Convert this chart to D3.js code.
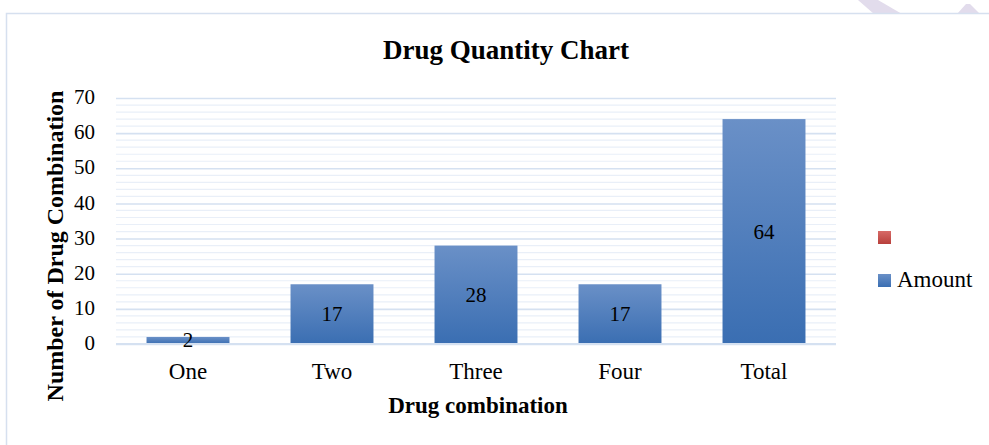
<!DOCTYPE html>
<html>
<head>
<meta charset="utf-8">
<script src="https://cdn.jsdelivr.net/npm/d3@7"></script>
<style>
  html, body { margin: 0; padding: 0; background: #fff; }
  svg { display: block; }
  text { font-family: "Liberation Serif", "DejaVu Serif", serif; fill: #000; }
</style>
</head>
<body>
<svg id="chart" width="989" height="445"></svg>
<script>
// ---- data ----
const categories = ["One", "Two", "Three", "Four", "Total"];
const amounts = [2, 17, 28, 17, 64];
const yTicks = [0, 10, 20, 30, 40, 50, 60, 70];
const legendLabels = ["", "Amount"];
const chartTitle = "Drug Quantity Chart";
const xTitle = "Drug combination";
const yTitle = "Number of Drug Combination";

// ---- layout ----
const W = 989, H = 445;
const plot = { left: 116, right: 836, top: 98, bottom: 344 };

const svg = d3.select("#chart");
const defs = svg.append("defs");

const gBlue = defs.append("linearGradient").attr("id", "gBlue")
  .attr("x1", 0).attr("y1", 0).attr("x2", 0).attr("y2", 1);
gBlue.append("stop").attr("offset", "0%").attr("stop-color", "#6a90c7");
gBlue.append("stop").attr("offset", "100%").attr("stop-color", "#3a6eb2");

const gRed = defs.append("linearGradient").attr("id", "gRed")
  .attr("x1", 0).attr("y1", 0).attr("x2", 0).attr("y2", 1);
gRed.append("stop").attr("offset", "0%").attr("stop-color", "#d76a67");
gRed.append("stop").attr("offset", "100%").attr("stop-color", "#b8403c");

// watermark shapes at top right (behind frame)
svg.append("polygon").attr("points", "858,0 878,0 902,14 874,14").attr("fill", "#e2dcec");
svg.append("polygon").attr("points", "957,14 966,4 970,4 980,14").attr("fill", "#e2dcec");

// frame
svg.append("rect").attr("x", 6.5).attr("y", 13.5).attr("width", W + 10).attr("height", H)
  .attr("fill", "#fff").attr("stroke", "#d6e0ef").attr("stroke-width", 1.5);

const x = d3.scaleBand().domain(categories).range([plot.left, plot.right])
  .paddingInner(0.424).paddingOuter(0.212);
const y = d3.scaleLinear().domain([0, 70]).range([plot.bottom, plot.top]);

// minor gridlines
const minor = d3.range(2, 70, 2).filter(v => v % 10 !== 0);
svg.append("g").selectAll("line").data(minor).join("line")
  .attr("x1", plot.left).attr("x2", plot.right)
  .attr("y1", d => y(d)).attr("y2", d => y(d))
  .attr("stroke", "#e9eff8").attr("stroke-width", 1.2);

// major gridlines via axis
const yAxis = d3.axisLeft(y).tickValues(yTicks).tickSize(-(plot.right - plot.left)).tickPadding(21);
const gy = svg.append("g").attr("transform", `translate(${plot.left},0)`).call(yAxis);
gy.select(".domain").remove();
gy.selectAll(".tick line").attr("stroke", "#d5e1f1").attr("stroke-width", 1.6);
gy.selectAll(".tick text").attr("font-family", "Liberation Serif").attr("font-size", 21)
  .attr("fill", "#000").attr("x", -21).attr("dy", "0.27em");

// bars
svg.append("g").selectAll("rect").data(amounts).join("rect")
  .attr("x", (d, i) => x(categories[i]))
  .attr("width", x.bandwidth())
  .attr("y", d => y(d))
  .attr("height", d => y(0) - y(d))
  .attr("fill", "url(#gBlue)");

// x axis line
svg.append("line").attr("x1", plot.left).attr("x2", plot.right)
  .attr("y1", y(0)).attr("y2", y(0)).attr("stroke", "#d5e1f1").attr("stroke-width", 2);

// x axis labels
const xAxis = d3.axisBottom(x).tickSize(0).tickPadding(19);
const gx = svg.append("g").attr("transform", `translate(0,${plot.bottom})`).call(xAxis);
gx.select(".domain").remove();
gx.selectAll(".tick text").attr("font-family", "Liberation Serif").attr("font-size", 23).attr("fill", "#000");

// data labels
svg.append("g").selectAll("text").data(amounts).join("text")
  .attr("x", (d, i) => x(categories[i]) + x.bandwidth() / 2)
  .attr("y", d => (y(d) + y(0)) / 2 + 7)
  .attr("text-anchor", "middle")
  .attr("font-size", 21)
  .text(d => d);

// title
svg.append("text").attr("x", 506).attr("y", 59).attr("text-anchor", "middle")
  .attr("font-size", 27).attr("font-weight", "bold").text(chartTitle);

// x title
svg.append("text").attr("x", 478).attr("y", 413).attr("text-anchor", "middle")
  .attr("font-size", 23).attr("font-weight", "bold").text(xTitle);

// y title
svg.append("text").attr("transform", "translate(63,246) rotate(-90)")
  .attr("text-anchor", "middle").attr("font-size", 24).attr("font-weight", "bold").text(yTitle);

// legend
const legY = [231, 274];
const legFill = ["url(#gRed)", "url(#gBlue)"];
const lg = svg.append("g");
lg.selectAll("rect").data(legendLabels).join("rect")
  .attr("x", 878).attr("y", (d, i) => legY[i]).attr("width", 13).attr("height", 13)
  .attr("fill", (d, i) => legFill[i]);
lg.selectAll("text").data(legendLabels).join("text")
  .attr("x", 897).attr("y", (d, i) => legY[i] + 13)
  .attr("font-size", 23).text(d => d);
</script>
</body>
</html>
